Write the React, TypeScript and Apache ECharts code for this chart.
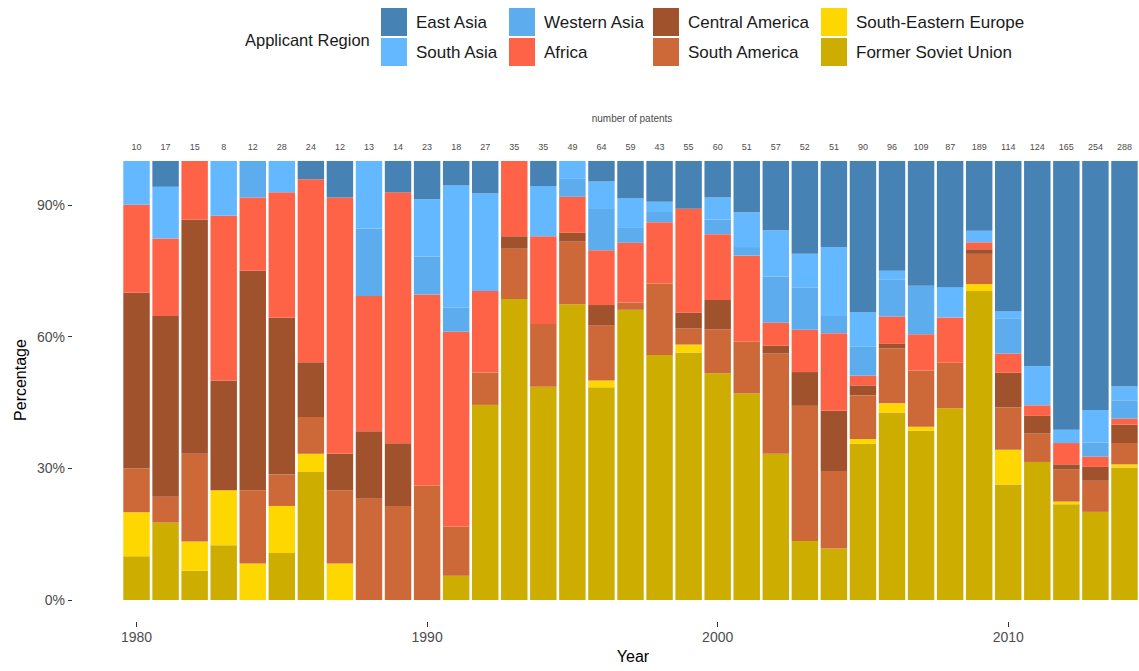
import React, { useEffect, useRef } from "react";
import * as echarts from "echarts";

// Years 1980..2014
const years: string[] = [
  "1980", "1981", "1982", "1983", "1984", "1985", "1986", "1987", "1988", "1989",
  "1990", "1991", "1992", "1993", "1994", "1995", "1996", "1997", "1998", "1999",
  "2000", "2001", "2002", "2003", "2004", "2005", "2006", "2007", "2008", "2009",
  "2010", "2011", "2012", "2013", "2014",
];

// number of patents (labels above bars)
const patentTotals: number[] = [
  10, 17, 15, 8, 12, 28, 24, 12, 13, 14, 23, 18, 27, 35, 35, 49, 64, 59, 43, 55,
  60, 51, 57, 52, 51, 90, 96, 109, 87, 189, 114, 124, 165, 254, 288,
];

// patent counts per applicant region and year
const eastAsia: number[] = [
  0, 1, 0, 0, 0, 0, 1, 1, 0, 1, 2, 1, 2, 0, 2, 0, 3, 5, 4, 6,
  5, 6, 9, 11, 10, 31, 24, 31, 25, 30, 39, 58, 101, 144, 148,
];
const southAsia: number[] = [
  1, 2, 0, 1, 0, 2, 0, 0, 2, 0, 3, 5, 6, 0, 4, 2, 4, 4, 1, 0,
  3, 4, 6, 4, 8, 7, 2, 0, 6, 5, 2, 11, 5, 19, 9,
];
const westernAsia: number[] = [
  0, 0, 0, 0, 1, 0, 0, 0, 2, 0, 2, 1, 0, 0, 0, 2, 6, 2, 1, 0,
  2, 1, 6, 5, 2, 6, 8, 12, 0, 0, 9, 0, 0, 8, 12,
];
const africa: number[] = [
  2, 3, 2, 3, 2, 8, 10, 7, 4, 8, 10, 8, 5, 6, 7, 4, 8, 8, 6, 13,
  9, 10, 3, 5, 9, 2, 6, 9, 9, 3, 5, 3, 8, 6, 4,
];
const centralAmerica: number[] = [
  4, 7, 8, 2, 6, 10, 3, 1, 2, 2, 0, 0, 0, 1, 0, 1, 3, 0, 0, 2,
  4, 0, 1, 4, 7, 2, 1, 0, 0, 2, 9, 5, 2, 8, 12,
];
const southAmerica: number[] = [
  1, 1, 3, 0, 2, 2, 2, 2, 3, 3, 6, 2, 2, 4, 5, 7, 8, 1, 7, 2,
  6, 6, 13, 16, 9, 9, 12, 14, 9, 13, 11, 8, 12, 18, 14,
];
const southEasternEurope: number[] = [
  1, 0, 1, 1, 1, 3, 1, 1, 0, 0, 0, 0, 0, 0, 0, 0, 1, 0, 0, 1,
  0, 0, 0, 0, 0, 1, 2, 1, 0, 3, 9, 0, 1, 0, 2,
];
const formerSovietUnion: number[] = [
  1, 3, 1, 1, 0, 3, 7, 0, 0, 0, 0, 1, 12, 24, 17, 33, 31, 39, 24, 31,
  31, 24, 19, 7, 6, 32, 41, 42, 38, 133, 30, 39, 36, 51, 87,
];

const yTicks: number[] = [0, 30, 60, 90];

const regions = [
  { name: "Former Soviet Union", counts: formerSovietUnion, color: "#CDAD00" },
  { name: "South-Eastern Europe", counts: southEasternEurope, color: "#FFD700" },
  { name: "South America", counts: southAmerica, color: "#CD6839" },
  { name: "Central America", counts: centralAmerica, color: "#A0522D" },
  { name: "Africa", counts: africa, color: "#FF6347" },
  { name: "Western Asia", counts: westernAsia, color: "#5CACEE" },
  { name: "South Asia", counts: southAsia, color: "#63B8FF" },
  { name: "East Asia", counts: eastAsia, color: "#4682B4" },
];

const FONT = "'Liberation Sans', Arial, sans-serif";

export default function App() {
  const ref = useRef<HTMLDivElement>(null);

  useEffect(() => {
    document.body.style.margin = "0";
    document.body.style.overflow = "hidden";
    if (!ref.current) return;
    const chart = echarts.init(ref.current, null, { renderer: "svg" });

    const sums = years.map((_, i) =>
      regions.reduce((s, r) => s + r.counts[i], 0)
    );

    const series = regions.map((r) => ({
      name: r.name,
      type: "bar",
      stack: "share",
      barWidth: "91%",
      itemStyle: { color: r.color },
      emphasis: { disabled: true },
      data: r.counts.map((c, i) => (c / sums[i]) * 100),
    }));

    const legendCommon = {
      orient: "vertical",
      top: 8,
      padding: 0,
      itemWidth: 26,
      itemHeight: 28,
      itemGap: 2,
      icon: "rect",
      selectedMode: false,
      textStyle: {
        fontSize: 17,
        color: "#1a1a1a",
        fontFamily: FONT,
        padding: [0, 0, 0, 4],
      },
    };

    const isDecade = (i: number, v: string) => Number(v) % 10 === 0;

    const option: any = {
      animation: false,
      textStyle: { fontFamily: FONT },
      grid: { left: 122, top: 139, width: 1021, height: 483, containLabel: false },
      legend: [
        { ...legendCommon, left: 381, data: ["East Asia", "South Asia"] },
        { ...legendCommon, left: 509, data: ["Western Asia", "Africa"] },
        { ...legendCommon, left: 653, data: ["Central America", "South America"] },
        { ...legendCommon, left: 821, data: ["South-Eastern Europe", "Former Soviet Union"] },
      ],
      xAxis: [
        {
          type: "category",
          data: years,
          position: "bottom",
          axisLine: { show: false, onZero: false },
          axisTick: {
            show: true,
            alignWithLabel: true,
            length: 5,
            interval: isDecade,
            lineStyle: { color: "#333333" },
          },
          axisLabel: {
            interval: isDecade,
            fontSize: 14,
            color: "#4d4d4d",
            margin: 8,
            fontFamily: FONT,
          },
          splitLine: { show: false },
        },
        {
          type: "category",
          data: years,
          position: "top",
          axisLine: { show: false, onZero: false },
          axisTick: { show: false },
          axisLabel: {
            inside: true,
            interval: 0,
            fontSize: 9,
            color: "#4d4d4d",
            margin: 3,
            fontFamily: FONT,
            formatter: (v: string, i: number) => String(patentTotals[i]),
          },
        },
      ],
      yAxis: {
        type: "value",
        min: -5,
        max: 105,
        offset: 50,
        axisLine: { show: false, onZero: false },
        splitLine: { show: false },
        axisTick: {
          show: true,
          length: 4,
          customValues: yTicks,
          lineStyle: { color: "#333333" },
        },
        axisLabel: {
          customValues: yTicks,
          formatter: (v: number) => `${v}%`,
          fontSize: 14,
          color: "#4d4d4d",
          margin: 7,
          fontFamily: FONT,
        },
      },
      graphic: [
        {
          type: "text",
          left: 245,
          top: 31,
          style: {
            text: "Applicant Region",
            fontSize: 16.5,
            fill: "#1a1a1a",
            fontFamily: FONT,
          },
        },
        {
          type: "text",
          x: 632,
          y: 118,
          style: {
            text: "number of patents",
            fontSize: 10,
            fill: "#4d4d4d",
            fontFamily: FONT,
            align: "center",
            verticalAlign: "middle",
          },
        },
        {
          type: "text",
          x: 633,
          y: 656,
          style: {
            text: "Year",
            fontSize: 16,
            fill: "#000000",
            fontFamily: FONT,
            align: "center",
            verticalAlign: "middle",
          },
        },
        {
          type: "text",
          x: 20,
          y: 380,
          rotation: Math.PI / 2,
          style: {
            text: "Percentage",
            fontSize: 16,
            fill: "#000000",
            fontFamily: FONT,
            align: "center",
            verticalAlign: "middle",
          },
        },
      ],
      series,
    };

    chart.setOption(option);
    return () => chart.dispose();
  }, []);

  return <div ref={ref} style={{ width: 1139, height: 671 }} />;
}
